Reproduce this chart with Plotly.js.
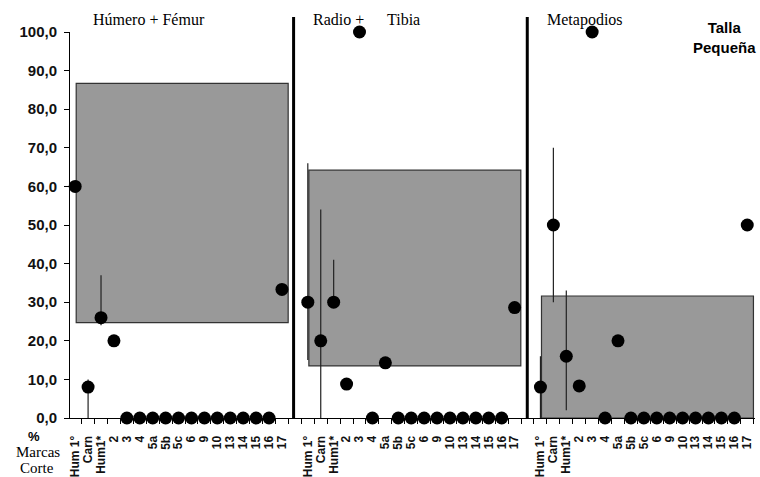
<!DOCTYPE html>
<html>
<head>
<meta charset="utf-8">
<script src="https://cdn.plot.ly/plotly-3.0.1.min.js"></script>
<style>
  html, body { margin: 0; padding: 0; background: #fff; }
  #chart { width: 760px; height: 477px; }
</style>
</head>
<body>
<div id="chart"></div>
<script>
// ---- data ----
const categories = ['Hum 1°', 'Carn', 'Hum1*', '2', '3', '4', '5a', '5b', '5c', '6', '9', '10', '13', '14', '15', '16', '17'];
const groupNames = ['Húmero + Fémur', 'Radio +', 'Metapodios'];

const humeroFemur      = [60, 8, 26, 20, 0, 0, 0, 0, 0, 0, 0, 0, 0, 0, 0, 0, 33.3];
const humeroFemurPlus  = [0, 2, 11, 0, 0, 0, 0, 0, 0, 0, 0, 0, 0, 0, 0, 0, 0];
const humeroFemurMinus = [0, 8, 2, 0, 0, 0, 0, 0, 0, 0, 0, 0, 0, 0, 0, 0, 0];

const radioTibia      = [30, 20, 30, 8.8, 100, 0, 14.3, 0, 0, 0, 0, 0, 0, 0, 0, 0, 28.6];
const radioTibiaPlus  = [36, 34, 11, 0, 0, 0, 0, 0, 0, 0, 0, 0, 0, 0, 0, 0, 0];
const radioTibiaMinus = [15, 20, 0, 0, 0, 0, 0, 0, 0, 0, 0, 0, 0, 0, 0, 0, 0];

const metapodios      = [8, 50, 16, 8.3, 100, 0, 20, 0, 0, 0, 0, 0, 0, 0, 0, 0, 50];
const metapodiosPlus  = [8, 20, 17, 0, 0, 0, 0, 0, 0, 0, 0, 0, 0, 0, 0, 0, 0];
const metapodiosMinus = [8, 20, 14, 0, 0, 0, 0, 0, 0, 0, 0, 0, 0, 0, 0, 0, 0];

// shaded ranges (low / high) for each group
const boxLow  = [24.7, 13.5, 0];
const boxHigh = [86.7, 64.2, 31.6];

// ---- build ----
const series = [
  [humeroFemur, humeroFemurPlus, humeroFemurMinus],
  [radioTibia, radioTibiaPlus, radioTibiaMinus],
  [metapodios, metapodiosPlus, metapodiosMinus]
];
const GROUP_STEP = categories.length + 1;

const xs = [], ys = [], ep = [], em = [], tickvals = [], ticktext = [];
series.forEach((s, g) => {
  categories.forEach((c, i) => {
    const x = g * GROUP_STEP + i;
    xs.push(x); ys.push(s[0][i]); ep.push(s[1][i]); em.push(s[2][i]);
    tickvals.push(x); ticktext.push(c);
  });
});

const boxX = [], boxBase = [], boxH = [];
boxLow.forEach((lo, g) => {
  boxX.push(g * GROUP_STEP + 8.28);
  boxBase.push(lo);
  boxH.push(boxHigh[g] - lo);
});

const traces = [
  {
    type: 'bar', x: boxX, y: boxH, base: boxBase, width: 16.4,
    marker: { color: '#999999', line: { color: '#333333', width: 1.2 } },
    hoverinfo: 'skip', showlegend: false
  },
  {
    type: 'scatter', mode: 'markers', x: xs, y: ys,
    marker: { color: '#000000', size: 13 },
    error_y: { type: 'data', symmetric: false, array: ep, arrayminus: em,
               color: '#222222', thickness: 1.2, width: 0 },
    cliponaxis: false, showlegend: false
  }
];

const PL = 70, PT = 32, PW = 685, PH = 386;
const px = x => (x - PL) / PW;
const py = y => (PT + PH - y) / PH;

const serif = { family: 'Liberation Serif, Times New Roman, serif', size: 16, color: '#000' };
const serifS = { family: 'Liberation Serif, Times New Roman, serif', size: 15, color: '#000' };
const sansB = { family: 'Liberation Sans, Arial, sans-serif', size: 15, color: '#000' };
const sansBS = { family: 'Liberation Sans, Arial, sans-serif', size: 13, color: '#000' };

const layout = {
  width: 760, height: 477,
  margin: { l: PL, r: 760 - PL - PW, t: PT, b: 477 - PT - PH },
  paper_bgcolor: '#fff', plot_bgcolor: '#fff',
  separators: ',.',
  showlegend: false,
  xaxis: {
    range: [-0.4, 52.6], showgrid: false, zeroline: false,
    showline: true, linecolor: '#000', linewidth: 1,
    tickmode: 'array', tickvals: tickvals, ticktext: ticktext,
    tickangle: -90, ticks: '', ticklabelstandoff: 12,
    tickfont: { family: 'Liberation Sans, Arial, sans-serif', size: 12, color: '#111', weight: 'bold' },
    minor: { tickmode: 'linear', tick0: 0.5, dtick: 1, ticks: 'outside', ticklen: 5, tickcolor: '#000', showgrid: false }
  },
  yaxis: {
    range: [0, 100], dtick: 10, tick0: 0, tickformat: '.1f',
    showgrid: false, zeroline: false,
    showline: true, linecolor: '#000', linewidth: 1,
    ticks: 'outside', ticklen: 5, tickcolor: '#000', ticklabelstandoff: 4,
    tickfont: { family: 'Liberation Sans, Arial, sans-serif', size: 15, color: '#111', weight: 'bold' }
  },
  shapes: [GROUP_STEP - 1.1, 2 * GROUP_STEP - 1.02].map(x => ({
    type: 'line', xref: 'x', yref: 'paper', x0: x, x1: x, y0: 0, y1: py(17),
    line: { color: '#000', width: 3 }, layer: 'above'
  })),
  annotations: [
    { text: groupNames[0], x: px(149), y: py(20), font: serif },
    { text: groupNames[1], x: px(338), y: py(20), font: serif },
    { text: 'Tibia', x: px(403), y: py(20), font: serif },
    { text: groupNames[2], x: px(585), y: py(20), font: serif },
    { text: '<b>Talla<br>Pequeña</b>', x: px(724), y: py(37), font: sansB, align: 'center' },
    { text: '<b>%</b>', x: px(34), y: py(436), font: sansBS },
    { text: 'Marcas', x: px(38), y: py(452), font: serifS },
    { text: 'Corte', x: px(37), y: py(468), font: serifS }
  ].map(a => Object.assign({ xref: 'paper', yref: 'paper', showarrow: false,
                              xanchor: 'center', yanchor: 'middle', borderpad: 0 }, a))
};

Plotly.newPlot('chart', traces, layout, { displayModeBar: false, staticPlot: true });
</script>
</body>
</html>
